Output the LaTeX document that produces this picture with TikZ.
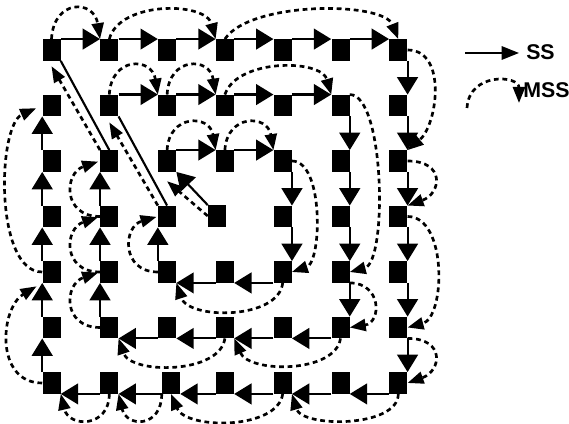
\documentclass[tikz,border=0pt]{standalone}
\usepackage{fontspec}
\setmainfont{Liberation Sans}
\usetikzlibrary{arrows.meta}

\begin{document}
\begin{tikzpicture}[x=0.75pt, y=-0.75pt]
    \tikzstyle{cell} = [rectangle, fill=black, minimum width=13.5pt, minimum height=16pt, inner sep=0pt]
    \tikzstyle{ss}   = [line width=1.6pt, -{Triangle[length=13pt,width=15.5pt]}]
    \tikzstyle{mss}  = [line width=2pt, dash pattern=on 3.6pt off 2.8pt, -{Triangle[length=12pt,width=9pt]}]
    \tikzstyle{legendtext} = [font=\fontsize{16}{19}\selectfont\bfseries, inner sep=0pt, anchor=base west]

    \useasboundingbox (0,0) rectangle (569,424);

    % Squares (column k, row j)
    \foreach \k/\j in {0/0,1/0,2/0,3/0,4/0,5/0,6/0,6/1,6/2,6/3,6/4,6/5,6/6,5/6,4/6,3/6,1/6,0/6,0/5,0/4,0/3,0/2,0/1}
        \node[cell] (n\k\j) at ({51.5+57.8*\k},{50+55.5*\j}) {};
    \node[cell] (n26) at (171,383) {};
    \foreach \k/\j in {1/1,2/1,3/1,4/1,5/1,5/2,5/3,5/4,5/5,4/5,3/5,2/5,1/5,1/4,1/3,1/2}
        \node[cell] (n\k\j) at ({51.5+57.8*\k},{50+55.5*\j}) {};
    \foreach \k/\j in {2/2,3/2,4/2,4/3,4/4,3/4,2/4,2/3}
        \node[cell] (n\k\j) at ({51.5+57.8*\k},{50+55.5*\j}) {};
    \node[cell] (mid) at (217,216) {};

    % SS: inner ring
    \draw[ss] (mid.north west) -- (n22.south east);
    \foreach \a/\b in {2/3,3/4} \draw[ss] (n\a2.north east) -- (n\b2.north west);
    \foreach \a/\b in {2/3,3/4} \draw[ss] (n4\a.south east) -- (n4\b.north east);
    \foreach \a/\b in {4/3,3/2} \draw[ss] (n\a4.south west) -- (n\b4.south east);
    \draw[ss] (n24.north west) -- (n23.south west);
    \draw[line width=1.6pt] (n23.north) -- (n11.south east);

    % SS: middle ring
    \foreach \a/\b in {1/2,2/3,3/4,4/5} \draw[ss] (n\a1.north east) -- (n\b1.north west);
    \foreach \a/\b in {1/2,2/3,3/4,4/5} \draw[ss] (n5\a.south east) -- (n5\b.north east);
    \foreach \a/\b in {5/4,4/3,3/2,2/1} \draw[ss] (n\a5.south west) -- (n\b5.south east);
    \foreach \a/\b in {5/4,4/3,3/2} \draw[ss] (n1\a.north west) -- (n1\b.south west);
    \draw[line width=1.6pt] (n12.north) -- (n00.south east);

    % SS: outer ring
    \foreach \a/\b in {0/1,1/2,2/3,3/4,4/5,5/6} \draw[ss] (n\a0.north east) -- (n\b0.north west);
    \foreach \a/\b in {0/1,1/2,2/3,3/4,4/5,5/6} \draw[ss] (n6\a.south east) -- (n6\b.north east);
    \foreach \a/\b in {6/5,5/4,4/3,3/2,2/1,1/0} \draw[ss] (n\a6.south west) -- (n\b6.south east);
    \foreach \a/\b in {6/5,5/4,4/3,3/2,2/1} \draw[ss] (n0\a.north west) -- (n0\b.south west);

    % MSS: inner ring
    \draw[mss] (mid.west) -- ([yshift=-7pt]n22.south);
    \draw[mss] (n22.north) .. controls +(2,-36) and +(-6,-36) .. (n32.north west);
    \draw[mss] (n32.north) .. controls +(2,-36) and +(-6,-36) .. (n42.north west);
    \draw[mss] (n42.east) .. controls +(32,0) and +(30,-10) .. (n44.east);
    \draw[mss] (n44.south) .. controls +(-4,37) and +(12,37) .. (n24.south east);
    \draw[mss, shorten >=1pt] (n24.west) .. controls +(-37,0) and +(-35,10) .. (n23.west);
    \draw[mss] (n23.north west) -- ([yshift=-4.5pt]n11.south);

    % MSS: middle ring
    \draw[mss] (n11.north) .. controls +(2,-38) and +(-6,-38) .. (n21.north west);
    \draw[mss] (n21.north) .. controls +(2,-38) and +(-6,-38) .. (n31.north west);
    \draw[mss] (n31.north) .. controls +(12,-36) and +(-10,-36) .. (n51.north west);
    \draw[mss] (n51.north east) .. controls +(35,0) and +(38,-10) .. (n54.east);
    \draw[mss] (n54.south east) .. controls +(32,0) and +(32,-5) .. (n55.east);
    \draw[mss] (n55.south) .. controls +(-5,35) and +(15,35) .. (n35.south east);
    \draw[mss] (n35.south) .. controls +(-5,36) and +(12,36) .. (n15.south east);
    \draw[mss, shorten >=1.5pt] (n15.west) .. controls +(-38,0) and +(-36,12) .. (n14.west);
    \draw[mss, shorten >=1.5pt] (n14.west) .. controls +(-38,0) and +(-36,12) .. (n13.west);
    \draw[mss, shorten >=1.5pt] (n13.west) .. controls +(-38,0) and +(-36,12) .. (n12.west);
    \draw[mss] (n12.north west) -- ([yshift=-4pt]n00.south);

    % MSS: outer ring
    \draw[mss] (n00.north) .. controls +(2,-40) and +(-6,-40) .. (n10.north west);
    \draw[mss] (n10.north) .. controls +(10,-38) and +(-10,-38) .. (n30.north west);
    \draw[mss] (n30.north) .. controls +(25,-38) and +(-15,-38) .. (n60.north);
    \draw[mss] (n60.east) .. controls +(40,0) and +(30,-25) .. (n62.north east);
    \draw[mss] (n62.east) .. controls +(38,0) and +(34,-12) .. (n63.north east);
    \draw[mss] (n63.east) .. controls +(40,0) and +(38,-10) .. (n65.east);
    \draw[mss] (n65.south east) .. controls +(38,0) and +(34,-12) .. (n66.east);
    \draw[mss] (n66.south) .. controls +(0,34) and +(10,34) .. (n46.south east);
    \draw[mss] (n46.south) .. controls +(-5,36) and +(15,36) .. (n26.south);
    \draw[mss] (n26.south west) .. controls +(0,34) and +(8,34) .. (n16.south east);
    \draw[mss] (n16.south) .. controls +(0,34) and +(8,34) .. (n06.south east);
    \draw[mss, shorten >=5pt] (n06.west) .. controls +(-48,0) and +(-42,25) .. (n04.south west);
    \draw[mss, shorten >=5pt] (n04.west) .. controls +(-48,0) and +(-45,20) .. (n01.west);

    % Legend
    \coordinate (ssa) at (465,53);
    \coordinate (ssb) at (519,53);
    \draw[ss, -{Triangle[length=13pt,width=10pt]}] (ssa) -- (ssb);
    \node[legendtext] (sstext) at (526,60) {SS};
    \coordinate (mssa) at (467,108);
    \coordinate (mssb) at (519,103);
    \draw[mss] (mssa) .. controls +(2,-36) and +(0,-28) .. (mssb);
    \node[legendtext] (msstext) at (523,98) {MSS};
\end{tikzpicture}
\end{document}
